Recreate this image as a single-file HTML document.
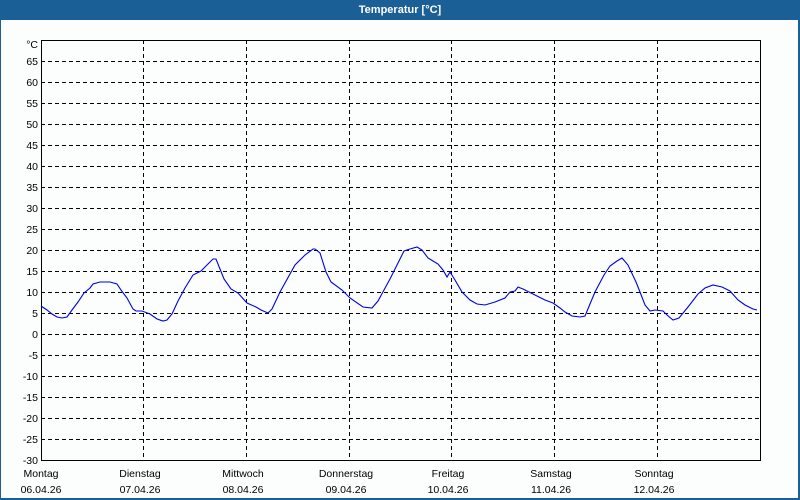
<!DOCTYPE html>
<html><head><meta charset="utf-8"><style>
body{margin:0;width:800px;height:500px;overflow:hidden;background:#fff;font-family:"Liberation Sans",sans-serif}
</style></head><body>
<svg width="800" height="500" xmlns="http://www.w3.org/2000/svg" style="position:absolute;left:0;top:0">
<rect x="0" y="0" width="800" height="500" fill="#1a5f96"/>
<rect x="1" y="20" width="797" height="478" fill="#fcfefd"/>
<text x="400" y="13" fill="#fff" font-size="11" font-weight="bold" text-anchor="middle">Temperatur [°C]</text>
<g stroke="#000" stroke-dasharray="4,3" stroke-width="1">
<line x1="41" x2="760" y1="61.5" y2="61.5"/><line x1="41" x2="760" y1="82.5" y2="82.5"/><line x1="41" x2="760" y1="103.5" y2="103.5"/><line x1="41" x2="760" y1="124.5" y2="124.5"/><line x1="41" x2="760" y1="145.5" y2="145.5"/><line x1="41" x2="760" y1="166.5" y2="166.5"/><line x1="41" x2="760" y1="187.5" y2="187.5"/><line x1="41" x2="760" y1="208.5" y2="208.5"/><line x1="41" x2="760" y1="229.5" y2="229.5"/><line x1="41" x2="760" y1="250.5" y2="250.5"/><line x1="41" x2="760" y1="271.5" y2="271.5"/><line x1="41" x2="760" y1="292.5" y2="292.5"/><line x1="41" x2="760" y1="313.5" y2="313.5"/><line x1="41" x2="760" y1="334.5" y2="334.5"/><line x1="41" x2="760" y1="355.5" y2="355.5"/><line x1="41" x2="760" y1="376.5" y2="376.5"/><line x1="41" x2="760" y1="397.5" y2="397.5"/><line x1="41" x2="760" y1="418.5" y2="418.5"/><line x1="41" x2="760" y1="439.5" y2="439.5"/>
<line x1="143.5" x2="143.5" y1="40" y2="460"/><line x1="246.5" x2="246.5" y1="40" y2="460"/><line x1="349.5" x2="349.5" y1="40" y2="460"/><line x1="451.5" x2="451.5" y1="40" y2="460"/><line x1="554.5" x2="554.5" y1="40" y2="460"/><line x1="657.5" x2="657.5" y1="40" y2="460"/>
</g>
<rect x="41.5" y="40.5" width="719" height="420" fill="none" stroke="#000" stroke-width="1"/>
<g font-size="10.5" fill="#000" text-anchor="end">
<text x="38" y="48">°C</text>
<text x="38" y="65">65</text><text x="38" y="86">60</text><text x="38" y="107">55</text><text x="38" y="128">50</text><text x="38" y="149">45</text><text x="38" y="170">40</text><text x="38" y="191">35</text><text x="38" y="212">30</text><text x="38" y="233">25</text><text x="38" y="254">20</text><text x="38" y="275">15</text><text x="38" y="296">10</text><text x="38" y="317">5</text><text x="38" y="338">0</text><text x="38" y="359">-5</text><text x="38" y="380">-10</text><text x="38" y="401">-15</text><text x="38" y="422">-20</text><text x="38" y="443">-25</text><text x="38" y="464">-30</text>
</g>
<g font-size="10.5" fill="#000" text-anchor="middle">
<text x="41" y="477">Montag</text><text x="41" y="493">06.04.26</text>
<text x="140" y="477">Dienstag</text><text x="140" y="493">07.04.26</text>
<text x="243" y="477">Mittwoch</text><text x="243" y="493">08.04.26</text>
<text x="346" y="477">Donnerstag</text><text x="346" y="493">09.04.26</text>
<text x="448" y="477">Freitag</text><text x="448" y="493">10.04.26</text>
<text x="551" y="477">Samstag</text><text x="551" y="493">11.04.26</text>
<text x="654" y="477">Sonntag</text><text x="654" y="493">12.04.26</text>
</g>
<polyline fill="none" stroke="#0000e0" stroke-width="1.1" points="41,306 47,310 52,314 57,317 62,318 67,317 72,310 78,302 84,293 90,288 93,284 100,282 110,282 117,284 121,290 127,298 133,309 136,311 142,311 150,314 157,319 163,321 167,320 172,314 178,301 185,288 193,275 201,271 207,265 213,259 216,259 220,269 224,279 231,289 238,293 247,303 256,307 261,310 268,313 272,309 280,292 295,265 305,255 313,249 315,249 320,253 326,272 331,282 342,290 350,298 363,307 372,308 378,301 390,279 400,259 404,251 410,249 417,247 422,250 428,258 433,261 438,264 443,270 447,277 450,272 455,280 462,292 470,300 477,304 485,305 495,302 505,298 510,292 515,291 518,287 523,289 533,294 545,300 553,303 560,308 565,312 572,316 580,317 585,316 590,304 595,292 604,275 610,266 617,261 622,258 628,265 636,282 640,292 645,305 650,311 655,310 663,311 667,315 673,320 679,318 688,307 698,294 705,288 713,285 722,287 730,291 738,300 745,305 753,309 757,310"/>
</svg>
</body></html>
